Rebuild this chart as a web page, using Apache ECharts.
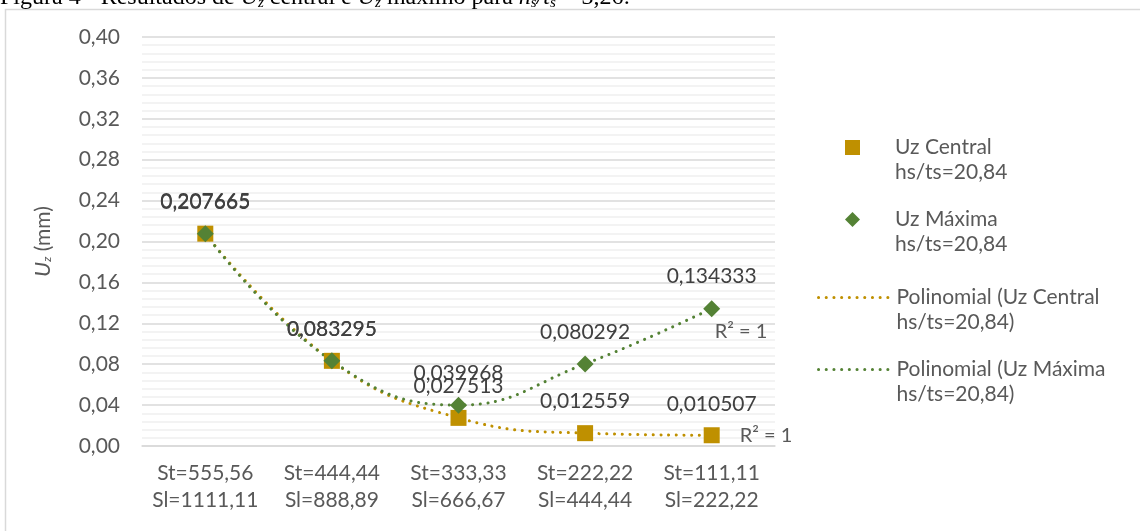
<!DOCTYPE html>
<html>
<head>
<meta charset="utf-8">
<script src="https://cdn.jsdelivr.net/npm/echarts@6/dist/echarts.min.js"></script>
<style>
html,body{margin:0;padding:0;background:#fff;}
#chart{width:1140px;height:531px;}
</style>
</head>
<body>
<div id="chart"></div>
<script>
const categories = ['St=555,56\nSl=1111,11','St=444,44\nSl=888,89','St=333,33\nSl=666,67','St=222,22\nSl=444,44','St=111,11\nSl=222,22'];
const uzCentral = [0.207665, 0.083295, 0.027513, 0.012559, 0.010507];
const uzMaxima = [0.207665, 0.083295, 0.039968, 0.080292, 0.134333];
const yTicks = {min: 0, max: 0.40, interval: 0.04};
const nameCentral = 'Uz Central\nhs/ts=20,84';
const nameMaxima = 'Uz Máxima\nhs/ts=20,84';
const nameTrendC = 'Polinomial (Uz Central\nhs/ts=20,84)';
const nameTrendM = 'Polinomial (Uz Máxima\nhs/ts=20,84)';
const r2Text = 'R² = 1';

const GOLD = '#BF9000', GREEN = '#548235';
const FONT = 'Lato';
const fmt = v => v.toFixed(6).replace('.', ',');
const last = uzCentral.length - 1;
const DOTS = [0.1, 7.6];

const legendText = pad => ({color: '#595959', fontFamily: FONT, fontSize: 21, lineHeight: 25, padding: [0, 0, 0, pad]});
const legendFmt = n => ' \n' + n;

const chart = echarts.init(document.getElementById('chart'), null, {renderer: 'canvas'});
chart.setOption({
  animation: false,
  backgroundColor: '#fff',
  textStyle: {fontFamily: FONT},
  graphic: [
    {type: 'rect', shape: {x: 5.5, y: 9.5, width: 1300, height: 700}, style: {fill: 'none', stroke: '#d9d9d9', lineWidth: 1.5}, silent: true, z: -10},
    {type: 'text', x: 0, y: -2, style: {
      text: '{a|Figura 4 - Resultados de }{i|U}{s|z}{a| central e }{i|U}{s|z}{a| máximo para }{i|h}{s|s}{i|/t}{s|s}{a| = 3,26:}',
      verticalAlign: 'middle',
      rich: {
        a: {fontFamily: 'Liberation Serif', fontSize: 24, fill: '#000'},
        i: {fontFamily: 'Liberation Serif', fontSize: 24, fontStyle: 'italic', fill: '#000'},
        s: {fontFamily: 'Liberation Serif', fontSize: 15, fontStyle: 'italic', fill: '#000', padding: [10, 0, 0, 0]}
      }
    }}
  ],
  grid: {left: 142, right: 365, top: 37, bottom: 85},
  legend: [
    {
      orient: 'vertical', left: 840, top: 105,
      itemWidth: 15, itemHeight: 15, itemGap: -3,
      data: [nameCentral, nameMaxima],
      formatter: legendFmt,
      textStyle: legendText(30)
    },
    {
      orient: 'vertical', left: 812, top: 255,
      itemWidth: 70, itemHeight: 14, itemGap: -3,
      data: [{name: nameTrendC, itemStyle: {opacity: 0}}, {name: nameTrendM, itemStyle: {opacity: 0}}],
      lineStyle: {width: 3, type: DOTS, cap: 'round'},
      formatter: legendFmt,
      textStyle: legendText(3)
    }
  ],
  xAxis: {
    type: 'category', data: categories, boundaryGap: true,
    axisLine: {show: true, lineStyle: {color: '#d9d9d9', width: 1.5}},
    axisTick: {show: false},
    axisLabel: {color: '#595959', fontFamily: FONT, fontSize: 21, lineHeight: 27, margin: 14, interval: 0}
  },
  yAxis: {
    type: 'value', min: yTicks.min, max: yTicks.max, interval: yTicks.interval,
    name: '{i|U}{s|z}{n| (mm)}', nameLocation: 'middle', nameRotate: 90, nameGap: 88,
    nameTextStyle: {
      rich: {
        i: {fontFamily: FONT, fontSize: 22, fontStyle: 'italic', color: '#595959'},
        s: {fontFamily: FONT, fontSize: 12, fontStyle: 'italic', color: '#595959', padding: [9, 0, 0, 0]},
        n: {fontFamily: FONT, fontSize: 21, color: '#595959'}
      }
    },
    axisLine: {show: false}, axisTick: {show: false},
    axisLabel: {color: '#595959', fontFamily: FONT, fontSize: 21, margin: 22, formatter: v => v.toFixed(2).replace('.', ',')},
    splitLine: {show: true, lineStyle: {color: '#d9d9d9', width: 1.5}},
    minorTick: {show: false, splitNumber: 5},
    minorSplitLine: {show: true, lineStyle: {color: '#f0f0f0', width: 1.5}}
  },
  series: [
    {
      name: nameTrendC, type: 'line', data: uzCentral, smooth: 0.45, symbol: 'none', z: 2,
      lineStyle: {color: GOLD, width: 3, type: DOTS, cap: 'round'}, itemStyle: {color: GOLD},
      markPoint: {symbol: 'circle', symbolSize: 0, data: [{coord: [last, uzCentral[last]], value: r2Text}],
        label: {show: true, formatter: r2Text, position: 'right', distance: 28, color: '#595959', fontFamily: FONT, fontSize: 20}}
    },
    {
      name: nameTrendM, type: 'line', data: uzMaxima, smooth: 0.45, symbol: 'none', z: 2,
      lineStyle: {color: GREEN, width: 3, type: DOTS, cap: 'round'}, itemStyle: {color: GREEN},
      markPoint: {symbol: 'circle', symbolSize: 0, data: [{coord: [last, uzMaxima[last]], value: r2Text}],
        label: {show: true, formatter: r2Text, position: [3, 13], color: '#595959', fontFamily: FONT, fontSize: 20}}
    },
    {
      name: nameCentral, type: 'scatter', data: uzCentral, symbol: 'rect', symbolSize: 16, z: 3,
      itemStyle: {color: GOLD, opacity: 1},
      label: {show: true, position: 'top', distance: 13, color: '#404040', fontFamily: FONT, fontSize: 21, formatter: p => fmt(p.value)}
    },
    {
      name: nameMaxima, type: 'scatter', data: uzMaxima, symbol: 'diamond', symbolSize: 17, z: 4,
      itemStyle: {color: GREEN, opacity: 1},
      label: {show: true, position: 'top', distance: 13, color: '#404040', fontFamily: FONT, fontSize: 21, formatter: p => fmt(p.value)}
    }
  ]
});
</script>
</body>
</html>
